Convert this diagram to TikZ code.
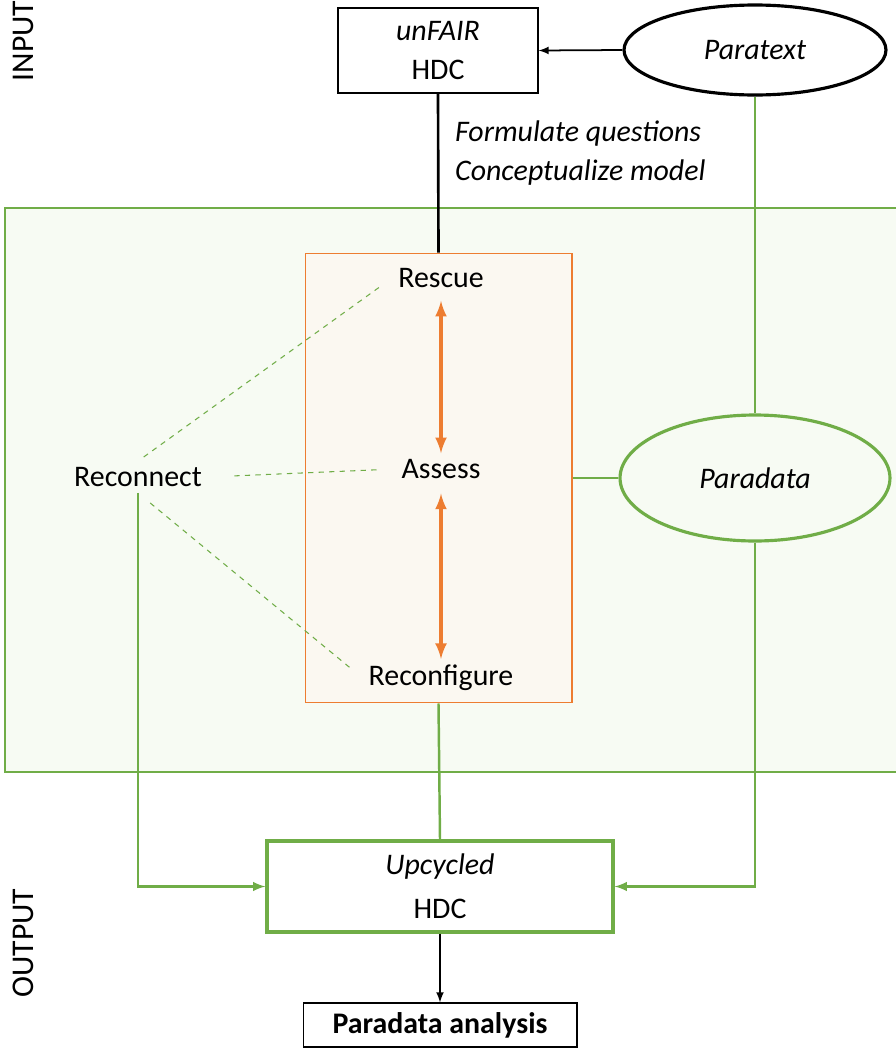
\documentclass[tikz,border=0pt]{standalone}
\usepackage{fontspec}
\setmainfont{Carlito}
\usepackage{xcolor}
\usetikzlibrary{shapes,arrows,positioning}

\definecolor{pdgreen}{RGB}{112,173,71}
\definecolor{pdorange}{RGB}{237,125,49}
\definecolor{pdpale}{RGB}{247,251,243}
\definecolor{pdcream}{RGB}{251,248,241}

\tikzset{
  thinbox/.style={draw, line width=0.6pt, align=center},
  greenline/.style={draw=pdgreen, line width=1.4pt},
  linkdash/.style={draw=pdgreen, dashed, line width=0.6pt},
  cycle/.style={pdorange, line width=2pt, latex-latex}
}

\begin{document}
\begin{tikzpicture}[x=0.02cm,y=-0.02cm,
  every node/.style={font=\fontsize{17}{20}\selectfont}]

\useasboundingbox (0,0) rectangle (896,1055);

\filldraw[fill=pdpale, draw=pdgreen, line width=0.6pt] (5,208) rectangle (900,772);
\node[fill=pdcream, draw=pdorange, line width=0.6pt, minimum width=5.34cm, minimum height=9cm] (stages) at (438.5,478) {};

\node[rotate=90, font=\fontsize{18}{20}\selectfont] (input) at (23,41) {INPUT};
\node[rotate=90, font=\fontsize{18}{20}\selectfont] (output) at (23,943) {OUTPUT};

\node[thinbox, minimum width=4cm, minimum height=1.7cm] (unfair) at (438,50.5) {\textit{unFAIR}\\[2pt]HDC};
\node[ellipse, draw, line width=1.8pt, minimum width=5.24cm, minimum height=1.8cm] (paratext) at (755,50) {\textit{Paratext}};

\node[anchor=west, align=left, font=\fontsize{17}{22}\selectfont] (steps) at (449,153) {\textit{Formulate questions}\\\textit{Conceptualize model}};

\node (rescue) at (441,278) {Rescue};
\node (assess) at (441,469) {Assess};
\node (reconf) at (441,678) {Reconfigure};
\node (reconnect) at (138,477) {Reconnect};

\node[ellipse, draw=pdgreen, line width=1.8pt, minimum width=5.4cm, minimum height=2.52cm] (paradata) at (755,478) {\textit{Paradata}};

\node[draw=pdgreen, line width=1.8pt, fill=white, align=center, minimum width=6.92cm, minimum height=1.82cm] (upcycled) at (440,886.5) {\textit{Upcycled}\\[5pt]HDC};
\node[thinbox, minimum width=5.48cm, minimum height=0.88cm] (analysis) at (440,1025) {\textbf{Paradata analysis}};

\draw[-latex, line width=1pt] (paratext.west) -- (unfair.east);
\draw[line width=1.5pt] (unfair.south) -- (stages.north);

\draw[cycle, shorten <=4pt] (rescue.south) -- (assess.north);
\draw[cycle, shorten <=5pt] (assess.south) -- (reconf.north);

\draw[linkdash, shorten <=4pt, shorten >=8pt] (reconnect.north) -- (rescue.west);
\draw[linkdash, shorten <=15pt, shorten >=8pt] (reconnect.east) -- (assess.west);
\draw[linkdash, shorten <=9pt, shorten >=8pt] (reconnect.south) -- (reconf.west);

\draw[greenline] (paratext.south) -- (paradata.north);
\draw[greenline] (stages.east) -- (paradata.west);
\draw[greenline, -latex] (paradata.south) |- (upcycled.east);
\draw[greenline, -latex] (reconnect.south) |- (upcycled.west);
\draw[greenline] (stages.south) -- (upcycled.north);
\draw[-latex, line width=1pt] (upcycled.south) -- (analysis.north);

\end{tikzpicture}
\end{document}
